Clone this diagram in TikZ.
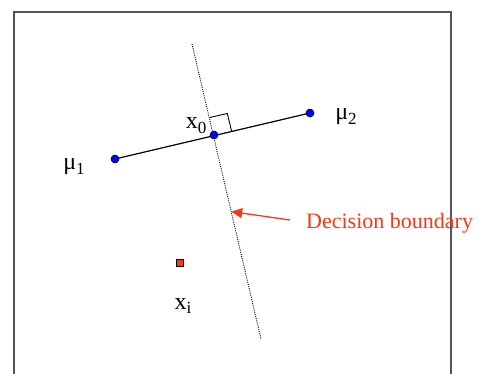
\documentclass[tikz,border=0pt]{standalone}
\usepackage{fontspec}
\setmainfont{Liberation Serif}
\usetikzlibrary{arrows.meta,calc}
\definecolor{bndred}{RGB}{250,55,20}
\definecolor{frmgray}{RGB}{85,85,85}
\newcommand{\lowidx}[1]{\raisebox{-0.45ex}{\fontsize{17}{17}\selectfont #1}}

\begin{document}
\begin{tikzpicture}[x=1pt, y=-1pt, >={Triangle[length=11pt, width=10pt]},
    dot/.style={circle, draw=black, fill=blue, inner sep=0pt, minimum size=8pt, line width=0.6pt},
    sqmark/.style={rectangle, draw=black, fill=bndred, inner sep=0pt, minimum size=7.5pt, line width=0.7pt},
    lbl/.style={font=\fontsize{24}{26}\selectfont, inner sep=0pt}]
    \useasboundingbox (0,0) rectangle (480,373);
    \draw[frmgray, line width=1.3pt] (14,390) -- (14,12) -- (451,12) -- (451,390);
    \coordinate (m1) at (115,159);
    \coordinate (m2) at (310,113);
    \coordinate (x0) at (214,135);
    \coordinate (top) at (192,44);
    \coordinate (bot) at (261,339);
    \draw[line width=0.9pt, dash pattern=on 1pt off 1.2pt] (top) -- (bot);
    \draw[line width=1.2pt] (m1) -- (m2);
    % right angle mark at x0
    \draw[line width=0.9pt] ($(x0)!18pt!(top)$) -- ($(x0)!18pt!(top) + (x0)!18pt!(m2) - (x0)$) -- ($(x0)!18pt!(m2)$);
    \node[dot] (mu1) at (m1) {};
    \node[dot] (mu2) at (m2) {};
    \node[dot] (xz) at (x0) {};
    \node[sqmark] (xi) at (180,263) {};
    \node[lbl] (mu1lbl) at (74,167) {μ\lowidx{1}};
    \node[lbl] (mu2lbl) at (346,117) {μ\lowidx{2}};
    \node[lbl] (x0lbl) at (196,126) {x\lowidx{0}};
    \node[lbl] (xilbl) at (183,306) {x\lowidx{i}};
    \node[lbl, text=bndred, anchor=west, font=\fontsize{22}{26}\selectfont] (db) at (306,223) {Decision boundary};
    \coordinate (tail) at (290,220);
    \coordinate (tip) at ($(top)!0.568!(bot)$);
    \draw[->, bndred, line width=1.3pt] (tail) -- (tip);
\end{tikzpicture}
\end{document}
